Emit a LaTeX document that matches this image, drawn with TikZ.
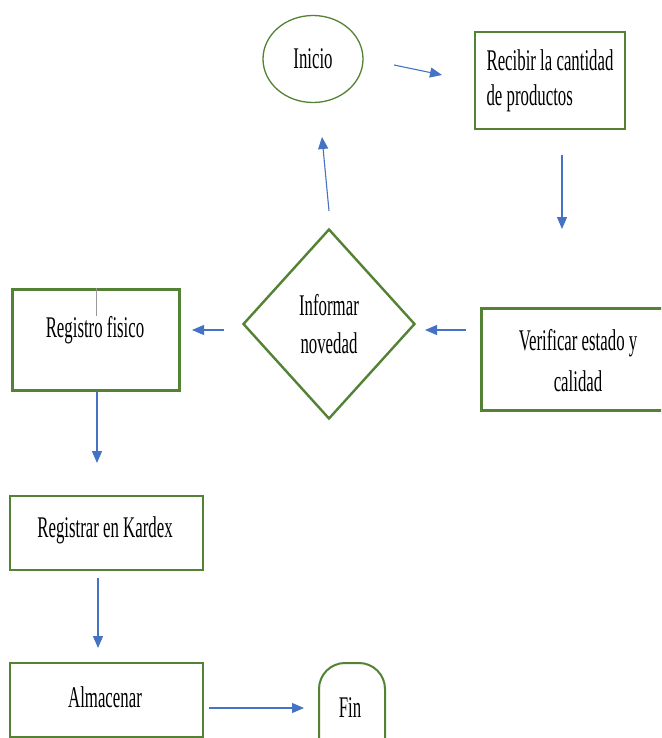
\documentclass[tikz,border=0pt]{standalone}
\usepackage{fontspec}
\setmainfont[FakeStretch=0.56]{Liberation Serif}
\usetikzlibrary{shapes.geometric,arrows.meta}
\definecolor{boxgreen}{HTML}{548235}
\definecolor{arrowblue}{HTML}{4472C4}
\tikzset{
  txt/.style={font=\fontsize{30}{35}\selectfont, text=black},
  procbox/.style={draw=boxgreen, line width=2.6pt, rectangle, inner sep=0pt, txt, align=center},
  flow/.style={draw=arrowblue, line width=1.1pt, -{Triangle[length=12pt,width=10pt]}, arrowblue},
}
\begin{document}
\begin{tikzpicture}[x=1pt,y=-1pt]
\useasboundingbox (0,0) rectangle (661,738);
\clip (0,0) rectangle (661,738);
\fill[white] (0,0) rectangle (661,738);

% nodes
\node[ellipse, draw=boxgreen, line width=1.3pt, minimum width=100pt, minimum height=87pt, inner sep=0pt, txt] (inicio) at (313,59) {Inicio};
\node[procbox, minimum width=150pt, minimum height=97pt, align=left] (recibir) at (550,80.5) {Recibir la cantidad\\de productos};
\node[procbox, line width=3pt, minimum width=190pt, minimum height=102pt] (verificar) at (576,359) {};
\node[txt, align=center, font=\fontsize{30}{41}\selectfont] (verificart) at (578,361) {Verificar estado y\\calidad};
\node[diamond, draw=boxgreen, line width=2.4pt, minimum width=172pt, minimum height=190pt, inner sep=0pt, txt, align=center, font=\fontsize{30}{38}\selectfont] (informar) at (329,324) {Informar\\novedad};
\node[procbox, line width=3pt, minimum width=167pt, minimum height=101pt] (registro) at (95.5,339.5) {};
\node[txt] (registrot) at (95,330) {Registro fisico};
\draw[gray!80, line width=0.6pt] (registro.north -| registrot.north) ++(1,0) -- ++(0,28);
\node[procbox, minimum width=193pt, minimum height=74pt] (kardex) at (106.5,533) {};
\node[txt] (kardext) at (105,530) {Registrar en Kardex};
\node[procbox, minimum width=193pt, minimum height=74pt] (almacenar) at (106.5,700) {};
\node[txt] (almacenart) at (105,697) {Almacenar};
\node[rectangle, rounded corners=26pt, draw=boxgreen, line width=2pt, minimum width=66pt, minimum height=110pt, inner sep=0pt] (fin) at (352,718) {};
\node[txt] (fint) at (350,708) {Fin};

% connector end points (arrows stand free of the shapes)
\coordinate (a1s) at (394,65);  \coordinate (a1e) at (442,75);
\coordinate (a2s) at (562,155); \coordinate (a2e) at (562,229);
\coordinate (a3s) at (466,330); \coordinate (a3e) at (425,330);
\coordinate (a4s) at (329,211); \coordinate (a4e) at (322,137);
\coordinate (a5s) at (224,330); \coordinate (a5e) at (192,330);
\coordinate (a6s) at (97,392);  \coordinate (a6e) at (97,463);
\coordinate (a7s) at (98,578);  \coordinate (a7e) at (98,648);
\coordinate (a8s) at (209,708); \coordinate (a8e) at (304,708);

\draw[flow] (a1s) -- (a1e);
\draw[flow] (a2s) -- (a2e);
\draw[flow] (a3s) -- (a3e);
\draw[flow] (a4s) -- (a4e);
\draw[flow] (a5s) -- (a5e);
\draw[flow] (a6s) -- (a6e);
\draw[flow] (a7s) -- (a7e);
\draw[flow] (a8s) -- (a8e);
\end{tikzpicture}
\end{document}
